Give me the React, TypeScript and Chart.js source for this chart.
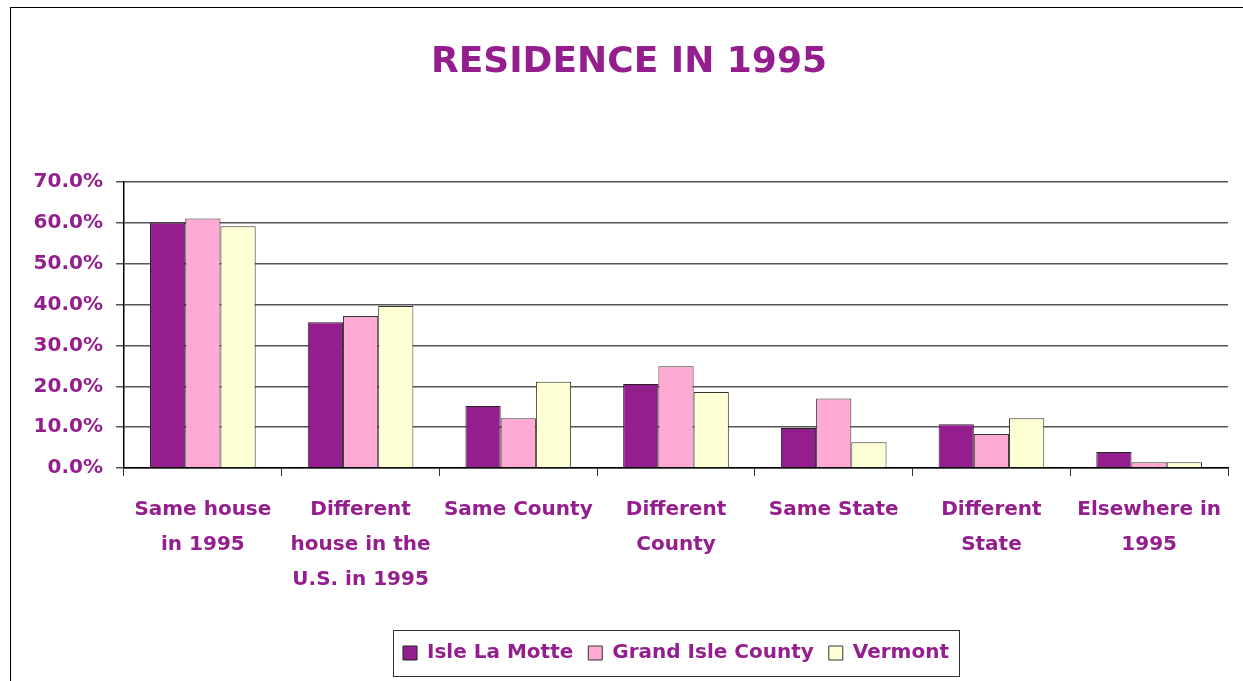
import React, { useEffect, useRef } from "react";
import { Chart, registerables } from "chart.js";

Chart.register(...registerables);

const categories: string[][] = [
  ["Same house", "in 1995"],
  ["Different", "house in the", "U.S. in 1995"],
  ["Same County"],
  ["Different", "County"],
  ["Same State"],
  ["Different", "State"],
  ["Elsewhere in", "1995"],
];

const seriesNames = ["Isle La Motte", "Grand Isle County", "Vermont"];
const isleLaMotte = [60.1, 35.7, 15.2, 20.6, 9.8, 10.7, 3.9];
const grandIsleCounty = [61.1, 37.2, 12.2, 24.9, 17.0, 8.3, 1.4];
const vermont = [59.2, 39.7, 21.1, 18.6, 6.3, 12.2, 1.4];
const yTicks = [0, 10, 20, 30, 40, 50, 60, 70];

const PURPLE = "#941E8E";
const FONT = "'Comic Sans MS', 'DejaVu Sans', sans-serif";

const frameAndLegendBox = {
  id: "frameAndLegendBox",
  afterDraw(chart: any) {
    const ctx = chart.ctx;
    ctx.save();
    ctx.strokeStyle = "#000";
    ctx.lineWidth = 1;
    ctx.strokeRect(10.5, 7.5, 1400, 800);
    const boxes = chart.legend?.legendHitBoxes || [];
    if (boxes.length) {
      let l = Infinity, r = -Infinity, t = Infinity, b = -Infinity;
      boxes.forEach((h: any) => {
        l = Math.min(l, h.left);
        r = Math.max(r, h.left + h.width);
        t = Math.min(t, h.top);
        b = Math.max(b, h.top + h.height);
      });
      ctx.strokeStyle = "#333";
      ctx.lineWidth = 1;
      ctx.strokeRect(Math.round(l - 10) + 0.5, Math.round(t - 13) + 0.5, Math.round(r - l + 20), Math.round(b - t + 26));
    }
    ctx.restore();
  },
};

export default function App() {
  const ref = useRef<HTMLCanvasElement>(null);
  useEffect(() => {
    if (!ref.current) return;
    const chart = new Chart(ref.current, {
      type: "bar",
      data: {
        labels: categories,
        datasets: [
          { label: seriesNames[0], data: isleLaMotte, backgroundColor: "#941E8E", borderColor: "#222", borderWidth: 1 },
          { label: seriesNames[1], data: grandIsleCounty, backgroundColor: "#FFAAD5", borderColor: "#333", borderWidth: 1 },
          { label: seriesNames[2], data: vermont, backgroundColor: "#FFFFD6", borderColor: "#333", borderWidth: 1 },
        ],
      },
      options: {
        responsive: false,
        animation: false,
        devicePixelRatio: 1,
        layout: { padding: { left: 20, right: 5, top: 0, bottom: 8 } },
        datasets: { bar: { categoryPercentage: 0.67, barPercentage: 1.0 } },
        plugins: {
          title: {
            display: true,
            text: "RESIDENCE IN 1995",
            color: PURPLE,
            font: { family: FONT, size: 36, weight: "bold" },
            padding: { top: 41, bottom: 98 },
          },
          legend: {
            position: "bottom",
            fullSize: false,
            labels: {
              color: PURPLE,
              font: { family: FONT, size: 20, weight: "bold" },
              boxWidth: 14,
              boxHeight: 14,
              padding: 15,
            },
          },
          tooltip: { enabled: false },
        },
        scales: {
          x: {
            grid: { offset: true, drawOnChartArea: false, drawTicks: true, tickLength: 8, color: "#333" },
            border: { color: "#000", width: 1.5 },
            ticks: {
              color: PURPLE,
              font: { family: FONT, size: 20, weight: "bold", lineHeight: 1.75 },
              padding: 16,
              maxRotation: 0,
              autoSkip: false,
            },
            afterFit(scale: any) {
              scale.height = 160;
            },
          },
          y: {
            min: 0,
            max: 70,
            afterBuildTicks(scale: any) {
              scale.ticks = yTicks.map((v) => ({ value: v }));
            },
            grid: { color: "#555", lineWidth: 1.5, tickLength: 8 },
            border: { color: "#000", width: 1.5 },
            ticks: {
              color: PURPLE,
              font: { family: FONT, size: 20, weight: "bold" },
              padding: 13,
              callback: (v: any) => Number(v).toFixed(1) + "%",
            },
            afterFit(scale: any) {
              scale.width = 104;
            },
          },
          spacer: {
            type: "linear",
            position: "right",
            display: true,
            grid: { display: false, drawTicks: false },
            border: { display: false },
            ticks: { display: false },
            afterFit(scale: any) {
              scale.width = 10;
            },
          },
        },
      },
      plugins: [frameAndLegendBox],
    });
    return () => chart.destroy();
  }, []);
  return (
    <div style={{ position: "absolute", left: 0, top: 0, width: 1243, height: 681, background: "#fff" }}>
      <canvas ref={ref} width={1243} height={681} style={{ display: "block" }} />
    </div>
  );
}
